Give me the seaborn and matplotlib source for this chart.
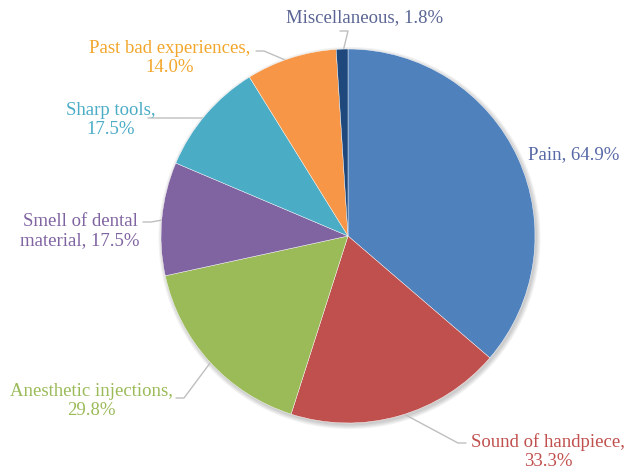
import numpy as np
import matplotlib
matplotlib.use("Agg")
import matplotlib.pyplot as plt
from matplotlib.patches import Circle
import seaborn as sns

categories = ['Pain', 'Sound of handpiece', 'Anesthetic injections',
              'Smell of dental material', 'Sharp tools',
              'Past bad experiences', 'Miscellaneous']
values = [64.9, 33.3, 29.8, 17.5, 17.5, 14.0, 1.8]
label_texts = ['Pain, 64.9%', 'Sound of handpiece,\n33.3%',
               'Anesthetic injections,\n29.8%', 'Smell of dental\nmaterial, 17.5%',
               'Sharp tools,\n17.5%', 'Past bad experiences,\n14.0%',
               'Miscellaneous, 1.8%']
slice_colors = ['#4F81BD', '#C0504D', '#9BBB59', '#8064A2',
                '#4BACC6', '#F79646', '#1F497D']
text_colors = ['#5668A6', '#C0504D', '#9BBB59', '#8064A2',
               '#4BACC6', '#F2A62A', '#5A6594']

sns.set_theme(style="white")
plt.rcParams['font.family'] = ['Liberation Serif', 'DejaVu Serif']

W, H = 626, 476
fig = plt.figure(figsize=(W / 100, H / 100), dpi=100)
ax = fig.add_axes([0, 0, 1, 1])

cx, cy, r = 348, H - 236, 187

# soft shadow under the pie
for i, a in enumerate([0.05, 0.05, 0.05, 0.05]):
    ax.add_patch(Circle((cx + 1.5, cy - 2), r + 4 - i * 1.2, color='black',
                        alpha=a, lw=0, zorder=0))

wedges, _ = ax.pie(values, colors=sns.color_palette(slice_colors), startangle=90,
                   counterclock=False, center=(cx, cy), radius=r,
                   wedgeprops=dict(linewidth=0.3, edgecolor='white', zorder=2))
ax.set_xlim(0, W)
ax.set_ylim(0, H)
ax.set_aspect('equal')
ax.axis('off')

# label layout (pixel positions, y from top), elbow points for leader lines
label_pos = [(574, 155), (548, 452), (91, 401), (80, 231),
             (111, 120), (170, 58), (365, 18)]
elbows = [None, (466, 443), (176, 398), (143, 222),
          (148, 118), (256, 51), (340, 31)]

for w, txt, tc, (lx, ly), el in zip(wedges, label_texts, text_colors, label_pos, elbows):
    mid = np.deg2rad((w.theta1 + w.theta2) / 2)
    ex, ey = cx + r * 0.97 * np.cos(mid), cy + r * 0.97 * np.sin(mid)
    ax.text(lx, H - ly, txt, color=tc, fontsize=13.5, ha='center', va='center',
            linespacing=1.15)
    if el is not None:
        ax.plot([ex, el[0] + (8 if el[0] < cx else -8), el[0]],
                [ey, H - el[1], H - el[1]], color='#BFBFBF', lw=1.0, zorder=1)

fig.savefig('out.png', dpi=100)
